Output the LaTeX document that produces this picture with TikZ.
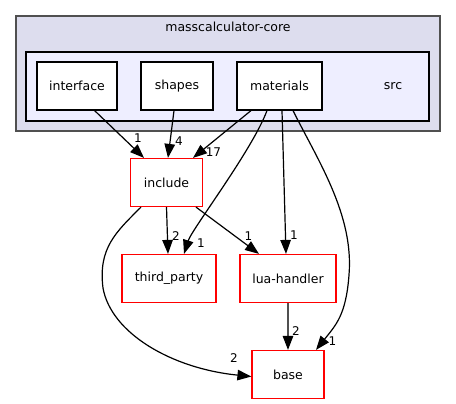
\documentclass[tikz,border=0pt]{standalone}
\usepackage{fontspec}
\setmainfont{DejaVu Sans}
\usetikzlibrary{arrows.meta}
\definecolor{outerfill}{HTML}{DDDDEE}
\definecolor{outerdraw}{HTML}{505050}
\definecolor{innerfill}{HTML}{EEEEFF}
\definecolor{redbox}{HTML}{FF0000}
\begin{document}
\begin{tikzpicture}[x=1pt,y=-1pt,
  every node/.style={font=\fontsize{12.5}{15}\selectfont},
  dirbox/.style={draw=black,fill=white,line width=1.2pt,minimum height=48pt,inner sep=0pt},
  extbox/.style={draw=redbox,fill=white,line width=1.2pt,minimum height=48pt,inner sep=0pt},
  dep/.style={draw=black,line width=1.2pt,-{Triangle[length=14pt,width=10.5pt,color=black]}},
  lbl/.style={font=\fontsize{12}{14}\selectfont,inner sep=0pt}]
\useasboundingbox (0,0) rectangle (456,404);
% clusters
\node[draw=outerdraw,fill=outerfill,line width=1.4pt,minimum width=424pt,minimum height=115pt,inner sep=0pt] (core) at (228,73.5) {};
\node at (228,27) (coretitle) {masscalculator-core};
\node[draw=black,fill=innerfill,line width=1.2pt,minimum width=403pt,minimum height=69pt,inner sep=0pt] (src) at (227.5,86.5) {};
\node at (393,86) (srclabel) {src};
% nodes
\node[dirbox,minimum width=80pt] (interface) at (77,86) {interface};
\node[dirbox,minimum width=72pt] (shapes) at (177,86) {shapes};
\node[dirbox,minimum width=85pt] (materials) at (279.5,86) {materials};
\node[extbox,minimum width=72pt] (include) at (166.5,182.5) {include};
\node[extbox,minimum width=94pt] (third) at (169,278.5) {third\_party};
\node[extbox,minimum width=96pt] (lua) at (288,278.5) {lua-handler};
\node[extbox,minimum width=72pt] (base) at (288,374.5) {base};
% edges
\draw[dep] ([xshift=-23pt]interface.south east) -- ([xshift=-22.5pt]include.north);
\draw[dep] ([xshift=-3pt]shapes.south) -- ([xshift=1.5pt]include.north);
\draw[dep] ([xshift=-28.5pt]materials.south) -- ([xshift=26.5pt]include.north);
\draw[dep] ([xshift=-12.5pt]materials.south) .. controls +(-15,40) and +(8,-25) .. ([xshift=15pt]third.north);
\draw[dep] ([xshift=2.5pt]materials.south) -- ([xshift=-2pt]lua.north);
\draw[dep] ([xshift=13.5pt]materials.south) .. controls +(25,50) and +(5,-60) .. (349,275) .. controls +(-3,40) and +(20,-25) .. ([xshift=28pt]base.north);
\draw[dep] (include.south) -- ([xshift=-1pt]third.north);
\draw[dep] ([xshift=29.5pt]include.south) -- ([xshift=-29pt]lua.north);
\draw[dep] ([xshift=-25.5pt]include.south) .. controls +(-25,25) and +(-5,-40) .. (103,288) .. controls +(8,45) and +(-80,-8) .. ([yshift=-2pt]base.west);
\draw[dep,draw=outerdraw] (lua.south) -- (base.north);
% labels
\node[lbl] (l1) at (138,138.5) {1};
\node[lbl] (l2) at (179,141) {4};
\node[lbl] (l3) at (213.5,152.5) {17};
\node[lbl] (l4) at (201,243) {1};
\node[lbl] (l5) at (176,236) {2};
\node[lbl] (l6) at (248.5,236) {1};
\node[lbl] (l7) at (294,235) {1};
\node[lbl] (l8) at (296,331.5) {2};
\node[lbl] (l9) at (332.5,341.5) {1};
\node[lbl] (l10) at (234,358) {2};
\end{tikzpicture}
\end{document}
